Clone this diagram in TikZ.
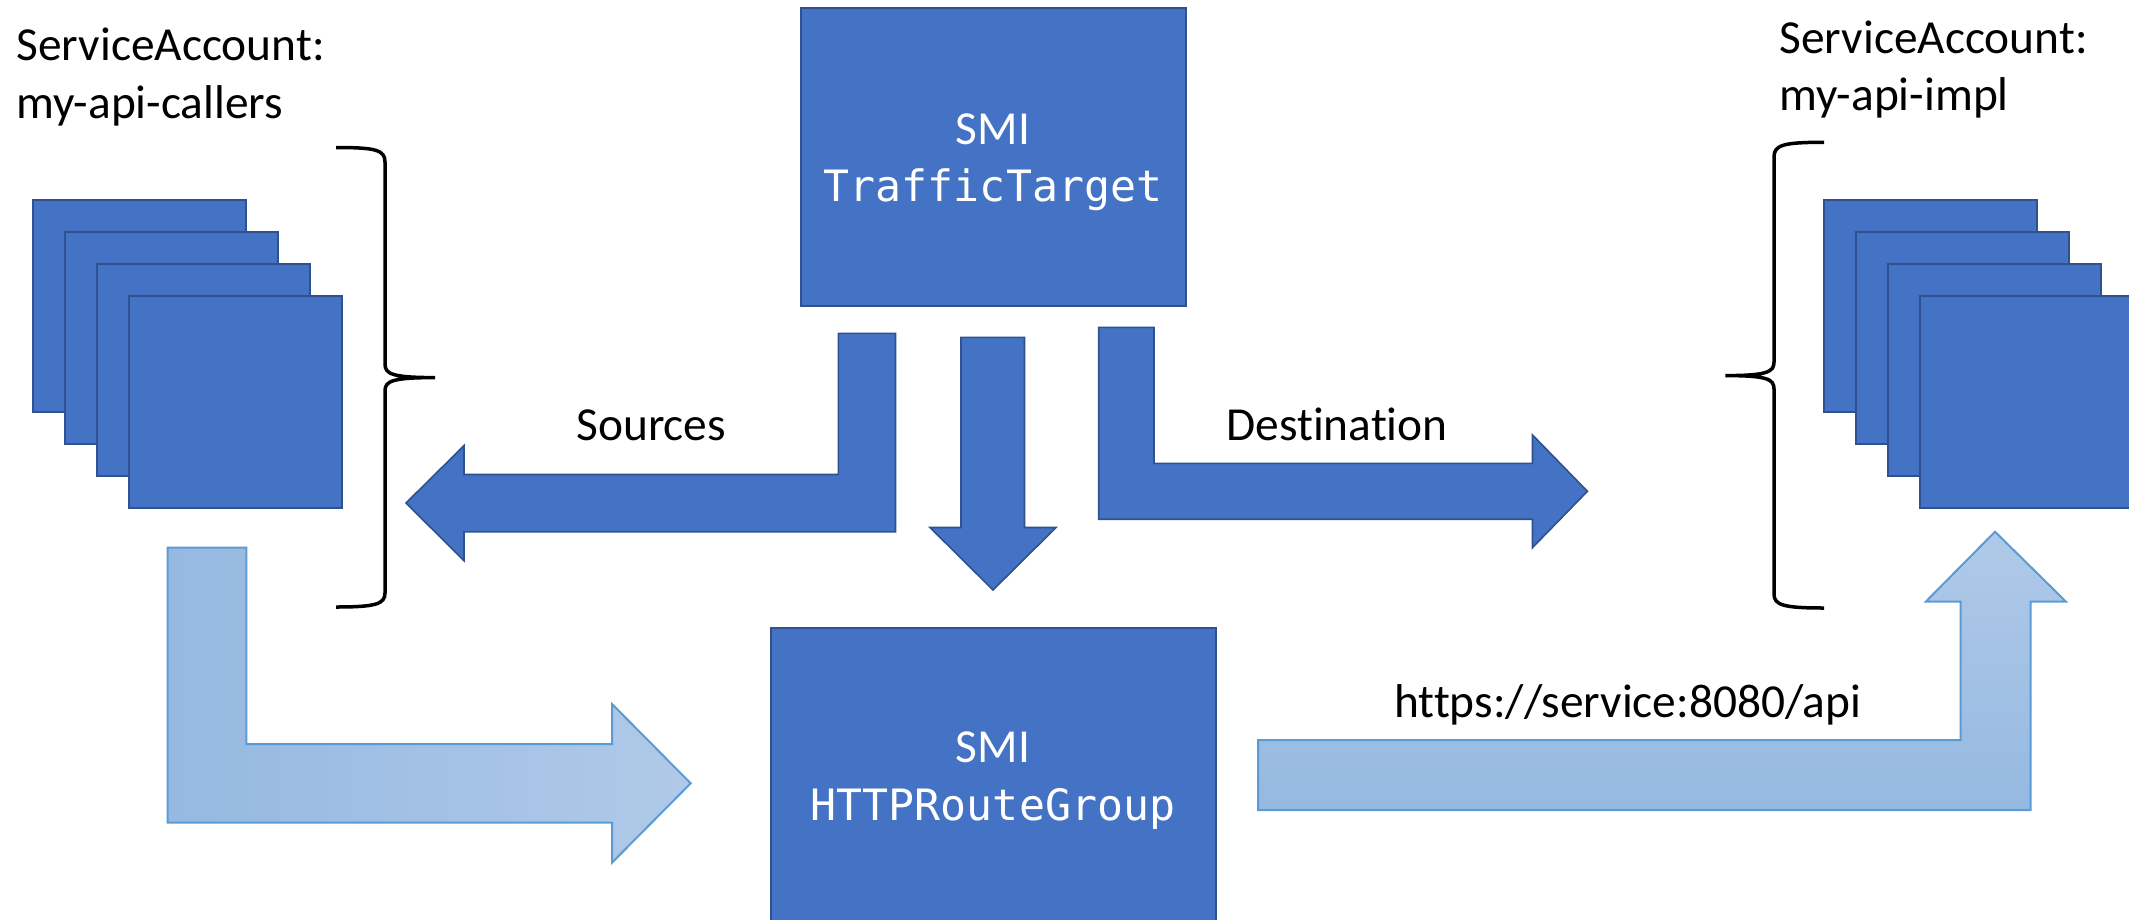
\documentclass[tikz,border=0pt]{standalone}
\usepackage{fontspec}
\setmainfont{Carlito}[Ligatures=NoCommon]
\newfontfamily\codefont{DejaVu Sans Mono}
\definecolor{boxblue}{HTML}{4472C4}
\definecolor{boxedge}{HTML}{2F528F}
\definecolor{flowdark}{HTML}{95B9E1}
\definecolor{flowlight}{HTML}{B0C9E8}
\definecolor{flowedge}{HTML}{5B9BD5}
\begin{document}
\begin{tikzpicture}[x=0.5pt,y=-0.5pt,
  pod/.style={draw=boxedge, fill=boxblue, line width=0.9pt, minimum width=106.5pt,
    minimum height=106pt, anchor=north west, inner sep=0pt, outer sep=0pt},
  resource/.style={draw=boxedge, fill=boxblue, line width=1pt, inner sep=0pt,
    outer sep=0pt, anchor=north west},
  caption/.style={font=\fontsize{23.7pt}{28pt}\selectfont, inner sep=0pt, anchor=base west},
  restitle/.style={font=\fontsize{23.7pt}{28pt}\selectfont, text=white, inner sep=0pt, anchor=base},
  reskind/.style={font=\codefont\fontsize{21.6pt}{26pt}\selectfont, text=white, inner sep=0pt, anchor=base},
  blockarrow/.style={draw=boxedge, fill=boxblue, line width=0.8pt, line join=miter},
  flow/.style={draw=flowedge, line width=1pt, line join=miter},
  bracket/.style={draw=black, line width=1.75pt}]
\useasboundingbox (0,0) rectangle (2129,920);
\clip (0,0) rectangle (2129,920);

% caller pods
\node[pod] (c1) at (33,200) {};
\node[pod] (c2) at (65,232) {};
\node[pod] (c3) at (97,264) {};
\node[pod] (c4) at (129,296) {};

% implementation pods
\node[pod] (i1) at (1824,200) {};
\node[pod] (i2) at (1856,232) {};
\node[pod] (i3) at (1888,264) {};
\node[pod] (i4) at (1920,296) {};

% service account captions
\node[caption] (sa1) at (16,61) {ServiceAccount:};
\node[caption] (sa1n) at (16,118.6) {my-api-callers};
\node[caption] (sa2) at (1779,53.4) {ServiceAccount:};
\node[caption] (sa2n) at (1779,110.7) {my-api-impl};

% braces grouping the pods
\draw[bracket] (336,147.5) .. controls (376,147.5) and (385,150) .. (385,162)
  -- (385,364) .. controls (385,374) and (392,377.6) .. (435,377.6)
  .. controls (392,377.6) and (385,381) .. (385,391)
  -- (385,593) .. controls (385,604) and (376,607) .. (336,607);
\draw[bracket] (1824,142.3) .. controls (1783,142.3) and (1774,145) .. (1774,157)
  -- (1774,362) .. controls (1774,372) and (1767,375.6) .. (1725.4,375.6)
  .. controls (1767,375.6) and (1774,379) .. (1774,389)
  -- (1774,594) .. controls (1774,605) and (1783,608) .. (1824,608);

% SMI resources
\node[resource, minimum width=192.5pt, minimum height=148.75pt] (tt) at (800.5,8) {};
\node[restitle] (tt1) at (993,144) {SMI};
\node[reskind] (tt2) at (993,201.7) {TrafficTarget};

\node[resource, minimum width=222.5pt, minimum height=160pt] (rg) at (771,628) {};
\node[restitle] (rg1) at (993,762) {SMI};
\node[reskind] (rg2) at (993,820) {HTTPRouteGroup};

% block arrows leaving the TrafficTarget
\draw[blockarrow] (895.5,333.3) -- (895.5,531.8) -- (464,531.8) -- (464,560.7)
  -- (406,503) -- (464,445.6) -- (464,474.5) -- (838.4,474.5) -- (838.4,333.3) -- cycle;
\draw[blockarrow] (961,337.3) -- (1024.5,337.3) -- (1024.5,527.5) -- (1056,527.5)
  -- (993,590) -- (930,527.5) -- (961,527.5) -- cycle;
\draw[blockarrow] (1098.7,327.4) -- (1154,327.4) -- (1154,463.4) -- (1532.5,463.4)
  -- (1532.5,435) -- (1587.4,491.3) -- (1532.5,547.6) -- (1532.5,519.2)
  -- (1098.7,519.2) -- cycle;

\node[caption] (src) at (576,440) {Sources};
\node[caption] (dst) at (1226,440) {Destination};

% request flow arrows
\path[flow, left color=flowdark, right color=flowlight]
  (167.5,547.7) -- (246.3,547.7) -- (246.3,744) -- (612,744) -- (612,704)
  -- (690.7,783.3) -- (612,862.7) -- (612,822.7) -- (167.5,822.7) -- cycle;
\path[flow, top color=flowlight, bottom color=flowdark]
  (1258,740) -- (1960.7,740) -- (1960.7,601.7) -- (1925.7,601.7) -- (1995,531.7)
  -- (2066,601.7) -- (2030.6,601.7) -- (2030.6,810) -- (1258,810) -- cycle;

\node[caption] (url) at (1394,717) {https://service:8080/api};
\end{tikzpicture}
\end{document}
